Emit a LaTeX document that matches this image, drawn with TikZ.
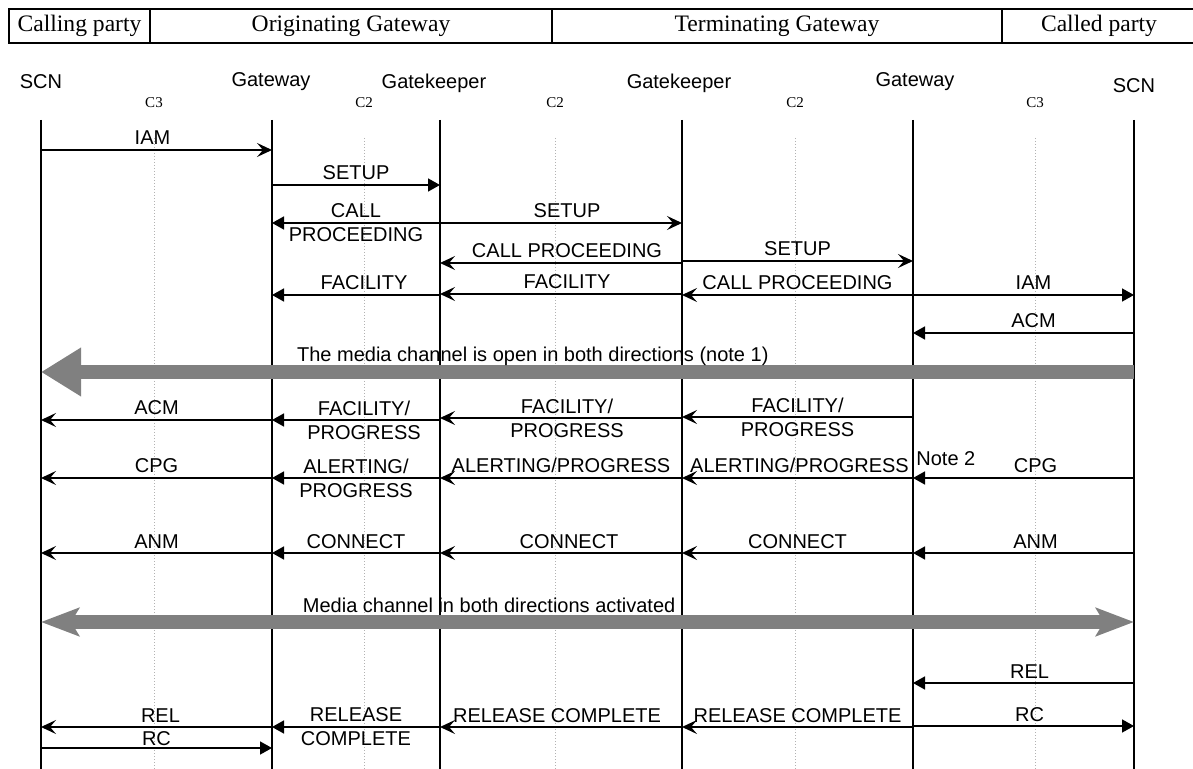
\documentclass[tikz,border=0pt]{standalone}
\usepackage{fontspec}
\setmainfont{Liberation Serif}
\setsansfont{Liberation Sans}
\usetikzlibrary{arrows.meta}

\begin{document}
\begin{tikzpicture}[
  x=0.5pt, y=-0.5pt,
  cell/.style={draw, line width=0.6pt, outer sep=0pt, inner sep=0pt, minimum height=17pt, font=\fontsize{11.8}{14}\selectfont},
  party/.style={font=\sffamily\fontsize{10}{12}\selectfont, anchor=base, inner sep=0pt},
  zone/.style={font=\fontsize{7.5}{9}\selectfont, anchor=base, inner sep=0pt},
  life/.style={line width=0.6pt},
  guide/.style={densely dotted, line width=0.5pt, draw=black!30},
  msg/.style={line width=0.8pt},
  barbmsg/.style={msg, -{Stealth[length=7.5pt, width=7pt, inset=3pt]}},
  trimsg/.style={msg, -{Triangle[length=6pt, width=6.5pt]}},
  lbl/.style={font=\sffamily\fontsize{10}{12}\selectfont, anchor=base, yshift=2.5pt, inner sep=0pt},
  lbltwo/.style={font=\sffamily\fontsize{10}{12}\selectfont, align=center, inner sep=0pt},
  band/.style={draw=gray, line width=7pt},
  bandlbl/.style={font=\sffamily\fontsize{10}{12}\selectfont, anchor=base, yshift=5pt, inner sep=0pt}
]
\useasboundingbox (0,0) rectangle (1193,769);

% header row
\node[cell, minimum width=70.5pt, anchor=north west] (calling) at (9,9) {Calling party};
\node[cell, minimum width=201pt, anchor=north west] (orig) at (calling.north east) {Originating Gateway};
\node[cell, minimum width=225pt, anchor=north west] (term) at (orig.north east) {Terminating Gateway};
\node[cell, minimum width=97pt, anchor=north west] (called) at (term.north east) {Called party};

% lifelines
\coordinate (scnA) at (41,120);
\coordinate (gwA) at (272,120);
\coordinate (gkA) at (440,120);
\coordinate (gkB) at (682,120);
\coordinate (gwB) at (913,120);
\coordinate (scnB) at (1134,120);
\foreach \p in {scnA,gwA,gkA,gkB,gwB,scnB} {
  \draw[life] (\p) -- (\p |- 0,769);
}
\node[party] (scnAname) at (41,89) {SCN};
\node[party] (gwAname) at (271,87) {Gateway};
\node[party] (gkAname) at (434,89) {Gatekeeper};
\node[party] (gkBname) at (679,89) {Gatekeeper};
\node[party] (gwBname) at (915,87) {Gateway};
\node[party] (scnBname) at (1134,93) {SCN};

% zones
\foreach \n/\x/\t in {zoneA/154/C3, zoneB/364/C2, zoneC/555/C2, zoneD/795/C2, zoneE/1035/C3} {
  \node[zone] (\n) at (\x,108) {\t};
  \draw[guide] (\n |- 0,138) -- (\n |- 0,769);
}

% call setup
\draw[barbmsg] (scnA |- 0,150) -- node[lbl, xshift=-2pt] {IAM} (gwA |- 0,150);
\draw[trimsg] (gwA |- 0,185) -- node[lbl] {SETUP} (gkA |- 0,185);
\draw[trimsg] (gkA |- 0,223) -- node[lbltwo] {CALL\\PROCEEDING} (gwA |- 0,223);
\draw[barbmsg] (gkA |- 0,223) -- node[lbl, xshift=3pt] {SETUP} (gkB |- 0,223);
\draw[barbmsg] (gkB |- 0,263) -- node[lbl, xshift=3pt] {CALL PROCEEDING} (gkA |- 0,263);
\draw[barbmsg] (gkB |- 0,261) -- node[lbl] {SETUP} (gwB |- 0,261);
\draw[trimsg] (gkA |- 0,295) -- node[lbl, xshift=4pt] {FACILITY} (gwA |- 0,295);
\draw[barbmsg] (gkB |- 0,294) -- node[lbl, xshift=3pt] {FACILITY} (gkA |- 0,294);
\draw[barbmsg] (gwB |- 0,295) -- node[lbl] {CALL PROCEEDING} (gkB |- 0,295);
\draw[trimsg] (gwB |- 0,295) -- node[lbl, xshift=5pt] {IAM} (scnB |- 0,295);
\draw[trimsg] (scnB |- 0,333) -- node[lbl, xshift=5pt] {ACM} (gwB |- 0,333);

\draw[band, -{Triangle[length=20pt, width=23pt]}] (scnB |- 0,372) -- node[bandlbl, pos=0.55] {The media channel is open in both directions (note 1)} (scnA |- 0,372);

% progress / alerting / connect
\draw[barbmsg] (gwA |- 0,420) -- node[lbl] {ACM} (scnA |- 0,420);
\draw[trimsg] (gkA |- 0,420) -- node[lbltwo, xshift=4pt] {FACILITY/\\PROGRESS} (gwA |- 0,420);
\draw[barbmsg] (gkB |- 0,418) -- node[lbltwo, xshift=3pt] {FACILITY/\\PROGRESS} (gkA |- 0,418);
\draw[barbmsg] (gwB |- 0,417) -- node[lbltwo] {FACILITY/\\PROGRESS} (gkB |- 0,417);

\draw[barbmsg] (gwA |- 0,478) -- node[lbl] {CPG} (scnA |- 0,478);
\draw[trimsg] (gkA |- 0,478) -- node[lbltwo] {ALERTING/\\PROGRESS} (gwA |- 0,478);
\draw[barbmsg] (gkB |- 0,478) -- node[lbl] {ALERTING/PROGRESS} (gkA |- 0,478);
\draw[barbmsg] (gwB |- 0,478) -- node[lbl, xshift=1pt] {ALERTING/PROGRESS} (gkB |- 0,478);
\draw[trimsg] (scnB |- 0,478) -- node[lbl, xshift=6pt] {CPG} (gwB |- 0,478);
\node[lbl, anchor=base west, yshift=0pt] (note2) at (916,471) {Note 2};

\draw[barbmsg] (gwA |- 0,553) -- node[lbl] {ANM} (scnA |- 0,553);
\draw[trimsg] (gkA |- 0,553) -- node[lbl] {CONNECT} (gwA |- 0,553);
\draw[barbmsg] (gkB |- 0,553) -- node[lbl, xshift=4pt] {CONNECT} (gkA |- 0,553);
\draw[barbmsg] (gwB |- 0,553) -- node[lbl] {CONNECT} (gkB |- 0,553);
\draw[trimsg] (scnB |- 0,553) -- node[lbl, xshift=6pt] {ANM} (gwB |- 0,553);

\draw[band, {Stealth[length=19pt, width=14pt, inset=4pt]}-{Stealth[length=19pt, width=14pt, inset=4pt]}] (scnA |- 0,622) -- node[bandlbl, pos=0.41] {Media channel in both directions activated} (scnB |- 0,622);

% release
\draw[trimsg] (scnB |- 0,683) -- node[lbl, xshift=3pt] {REL} (gwB |- 0,683);
\draw[barbmsg] (gwA |- 0,727) -- node[lbl, xshift=2pt] {REL} (scnA |- 0,727);
\draw[trimsg] (gkA |- 0,727) -- node[lbltwo] {RELEASE\\COMPLETE} (gwA |- 0,727);
\draw[barbmsg] (gkB |- 0,727) -- node[lbl, xshift=-2pt] {RELEASE COMPLETE} (gkA |- 0,727);
\draw[barbmsg] (gwB |- 0,727) -- node[lbl] {RELEASE COMPLETE} (gkB |- 0,727);
\draw[trimsg] (gwB |- 0,726) -- node[lbl, xshift=3pt] {RC} (scnB |- 0,726);
\draw[trimsg] (scnA |- 0,748) -- node[lbl, yshift=-1pt] {RC} (gwA |- 0,748);

\end{tikzpicture}
\end{document}
